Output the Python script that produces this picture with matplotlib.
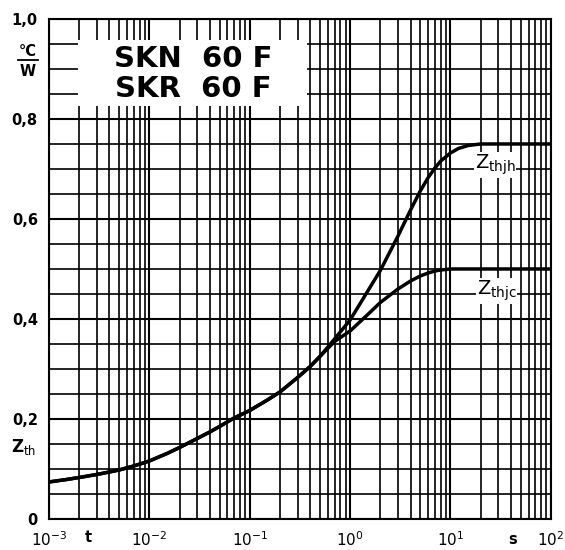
import numpy as np
import matplotlib.pyplot as plt
from matplotlib.patches import Rectangle

# common part of both curves (s, °C/W)
t_common = [1e-3, 1.5e-3, 2e-3, 3e-3, 4e-3, 5e-3, 7e-3, 1e-2, 1.5e-2, 2e-2, 3e-2, 4e-2,
            5e-2, 7e-2, 0.1, 0.15, 0.2, 0.3, 0.4, 0.5]
z_common = [0.074, 0.079, 0.083, 0.089, 0.094, 0.098, 0.106, 0.116, 0.131, 0.143, 0.161,
            0.174, 0.185, 0.202, 0.217, 0.238, 0.254, 0.283, 0.305, 0.325]

# Zthjh branch
t_jh = [0.7, 1.0, 1.5, 2.0, 3.0, 4.0, 5.0, 6.0, 7.0, 8.0, 10.0, 12.0, 15.0, 20.0, 30.0, 100.0]
z_jh = [0.360, 0.398, 0.456, 0.497, 0.566, 0.618, 0.656, 0.683, 0.702, 0.716, 0.732, 0.741,
        0.747, 0.750, 0.750, 0.750]

# Zthjc branch
t_jc = [0.7, 1.0, 1.5, 2.0, 3.0, 4.0, 5.0, 6.0, 7.0, 8.0, 10.0, 15.0, 100.0]
z_jc = [0.355, 0.376, 0.409, 0.433, 0.460, 0.476, 0.486, 0.492, 0.496, 0.498, 0.500, 0.500,
        0.500]

y_ticks = [0, 0.2, 0.4, 0.6, 0.8, 1.0]
y_labels = ["0", "0,2", "0,4", "0,6", "0,8", "1,0"]
x_ticks = [1e-3, 1e-2, 1e-1, 1e0, 1e1, 1e2]
x_labels = [r"$10^{-3}$", r"$10^{-2}$", r"$10^{-1}$", r"$10^{0}$", r"$10^{1}$", r"$10^{2}$"]

fig = plt.figure(figsize=(5.65, 5.5), dpi=100)
ax = fig.add_axes([0.0867, 0.0564, 0.8883, 0.9091])
ax.set_xscale("log")
ax.set_xlim(1e-3, 1e2)
ax.set_ylim(0, 1.0)

# grid paper
ax.set_xticks(x_ticks)
ax.set_xticks([m * 10.0**e for e in range(-3, 2) for m in range(2, 10)], minor=True)
ax.set_yticks(y_ticks)
ax.set_yticks(np.arange(0, 1.0001, 0.05), minor=True)
ax.grid(True, which="major", color="black", lw=1.5)
ax.grid(True, which="minor", color="black", lw=1.2)
ax.set_axisbelow(True)
ax.tick_params(which="both", length=0)
ax.tick_params(axis="x", pad=8)
ax.tick_params(axis="y", pad=8)
ax.set_xticklabels(x_labels, fontsize=11, fontweight="bold")
ax.set_yticklabels(y_labels, fontsize=10.5, fontweight="bold")
ax.set_xticklabels([], minor=True)
for s in ax.spines.values():
    s.set_linewidth(1.5)

# title box
ax.add_patch(Rectangle((10**-2.71, 0.825), 10**-0.43 - 10**-2.71, 0.133,
                       facecolor="white", edgecolor="none", zorder=2))
ax.text(10**-1.56, 0.92, "SKN  60 F", fontsize=21, fontweight="heavy",
        ha="center", va="center", zorder=3)
ax.text(10**-1.56, 0.86, "SKR  60 F", fontsize=21, fontweight="heavy",
        ha="center", va="center", zorder=3)

# curves
ax.plot(t_common + t_jh, z_common + z_jh, color="black", lw=2.5, zorder=4)
ax.plot(t_common + t_jc, z_common + z_jc, color="black", lw=2.5, zorder=4)

ax.text(10**1.24, 0.7, r"Z$_{\rm thjh}$", fontsize=14, ha="left", va="baseline",
        bbox=dict(facecolor="white", edgecolor="none", pad=0.5), zorder=3)
ax.text(10**1.26, 0.448, r"Z$_{\rm thjc}$", fontsize=14, ha="left", va="baseline",
        bbox=dict(facecolor="white", edgecolor="none", pad=0.5), zorder=3)

# axis captions
fig.text(28 / 565, 1 - 51 / 550, "°C", fontsize=10.5, fontweight="bold", ha="center", va="center")
fig.add_artist(plt.Line2D([18 / 565, 38 / 565], [1 - 60 / 550, 1 - 60 / 550], color="black", lw=1.3))
fig.text(28 / 565, 1 - 71 / 550, "W", fontsize=10.5, fontweight="bold", ha="center", va="center")
fig.text(24 / 565, 1 - 447 / 550, r"Z$_{\rm th}$", fontsize=12, fontweight="bold", ha="center", va="center")
fig.text(88 / 565, 1 - 538 / 550, "t", fontsize=10.5, fontweight="bold", ha="center", va="center")
fig.text(513 / 565, 1 - 540 / 550, "s", fontsize=10.5, fontweight="bold", ha="center", va="center")

fig.savefig("out.png", dpi=100)
